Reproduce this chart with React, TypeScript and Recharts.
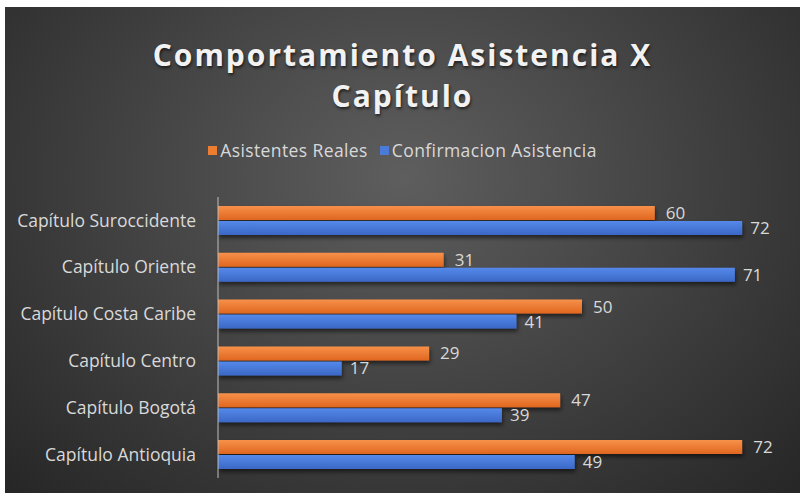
import { BarChart, Bar, XAxis, YAxis, LabelList, Legend } from "recharts";

const categories = [
  "Capítulo Suroccidente",
  "Capítulo Oriente",
  "Capítulo Costa Caribe",
  "Capítulo Centro",
  "Capítulo Bogotá",
  "Capítulo Antioquia",
];
const asistentesReales = [60, 31, 50, 29, 47, 72];
const confirmacionAsistencia = [72, 71, 41, 17, 39, 49];

const data = categories.map((name, i) => ({
  name,
  reales: asistentesReales[i],
  confirmacion: confirmacionAsistencia[i],
}));

const ORANGE = "#ed7d31";
const BLUE = "#4a7bd9";
const TEXT = "#d9d9d9";
const FONT = "'Open Sans', 'Noto Sans', sans-serif";

function LegendContent() {
  const items = [
    { label: "Asistentes Reales", color: ORANGE },
    { label: "Confirmacion Asistencia", color: BLUE },
  ];
  return (
    <div
      style={{
        display: "flex",
        justifyContent: "center",
        gap: 12,
        fontFamily: FONT,
        fontSize: 17.5,
        letterSpacing: 0.4,
        color: TEXT,
        height: 22,
      }}
    >
      {items.map((it) => (
        <span key={it.label} style={{ display: "flex", alignItems: "center" }}>
          <span style={{ width: 9, height: 9, background: it.color, marginRight: 3, display: "inline-block" }} />
          {it.label}
        </span>
      ))}
    </div>
  );
}

export default function App() {
  return (
    <div style={{ position: "absolute", left: 0, top: 0, width: 804, height: 499, background: "#fff" }}>
      <div
        style={{
          position: "absolute",
          left: 5,
          top: 7,
          width: 795,
          height: 486,
          background: "radial-gradient(ellipse at 50% 35%, #5e5e5e 0%, #454545 45%, #262626 100%)",
        }}
      >
        <div
          style={{
            position: "absolute",
            left: 0,
            top: 27,
            width: 795,
            textAlign: "center",
            color: "#f2f2f2",
            fontFamily: FONT,
            fontWeight: 700,
            fontSize: 30,
            letterSpacing: 2,
            lineHeight: "41px",
            textShadow: "1px 2px 3px rgba(0,0,0,0.6)",
          }}
        >
          Comportamiento Asistencia X
          <br />
          Capítulo
        </div>
        <BarChart
          width={795}
          height={486}
          data={data}
          layout="vertical"
          margin={{ top: 168, right: 36, bottom: 15, left: 0 }}
          barCategoryGap="19%"
          barGap={1}
        >
          <defs>
            <linearGradient id="gOrange" x1="0" y1="0" x2="0" y2="1">
              <stop offset="0%" stopColor="#f7914a" />
              <stop offset="100%" stopColor="#e0661f" />
            </linearGradient>
            <linearGradient id="gBlue" x1="0" y1="0" x2="0" y2="1">
              <stop offset="0%" stopColor="#5589ea" />
              <stop offset="100%" stopColor="#3b68c6" />
            </linearGradient>
            <filter id="barShadow" x="-5%" y="-30%" width="115%" height="190%">
              <feDropShadow dx="1" dy="3" stdDeviation="2" floodColor="#000" floodOpacity="0.55" />
            </filter>
          </defs>
          <Legend
            verticalAlign="top"
            content={<LegendContent />}
            wrapperStyle={{ top: 132, left: 0, width: 795 }}
          />
          <XAxis type="number" domain={[0, 75]} hide />
          <YAxis
            type="category"
            dataKey="name"
            width={213}
            tickLine={false}
            tickMargin={16}
            axisLine={{ stroke: "#bfbfbf" }}
            tick={{ fill: TEXT, fontSize: 17.5, fontFamily: FONT }}
          />
          <Bar
            dataKey="reales"
            name="Asistentes Reales"
            fill="url(#gOrange)"
            filter="url(#barShadow)"
            isAnimationActive={false}
          >
            <LabelList dataKey="reales" position="right" offset={11} fill={TEXT} fontSize={17} fontFamily={FONT} />
          </Bar>
          <Bar
            dataKey="confirmacion"
            name="Confirmacion Asistencia"
            fill="url(#gBlue)"
            filter="url(#barShadow)"
            isAnimationActive={false}
          >
            <LabelList dataKey="confirmacion" position="right" offset={8} fill={TEXT} fontSize={17} fontFamily={FONT} />
          </Bar>
        </BarChart>
      </div>
    </div>
  );
}
